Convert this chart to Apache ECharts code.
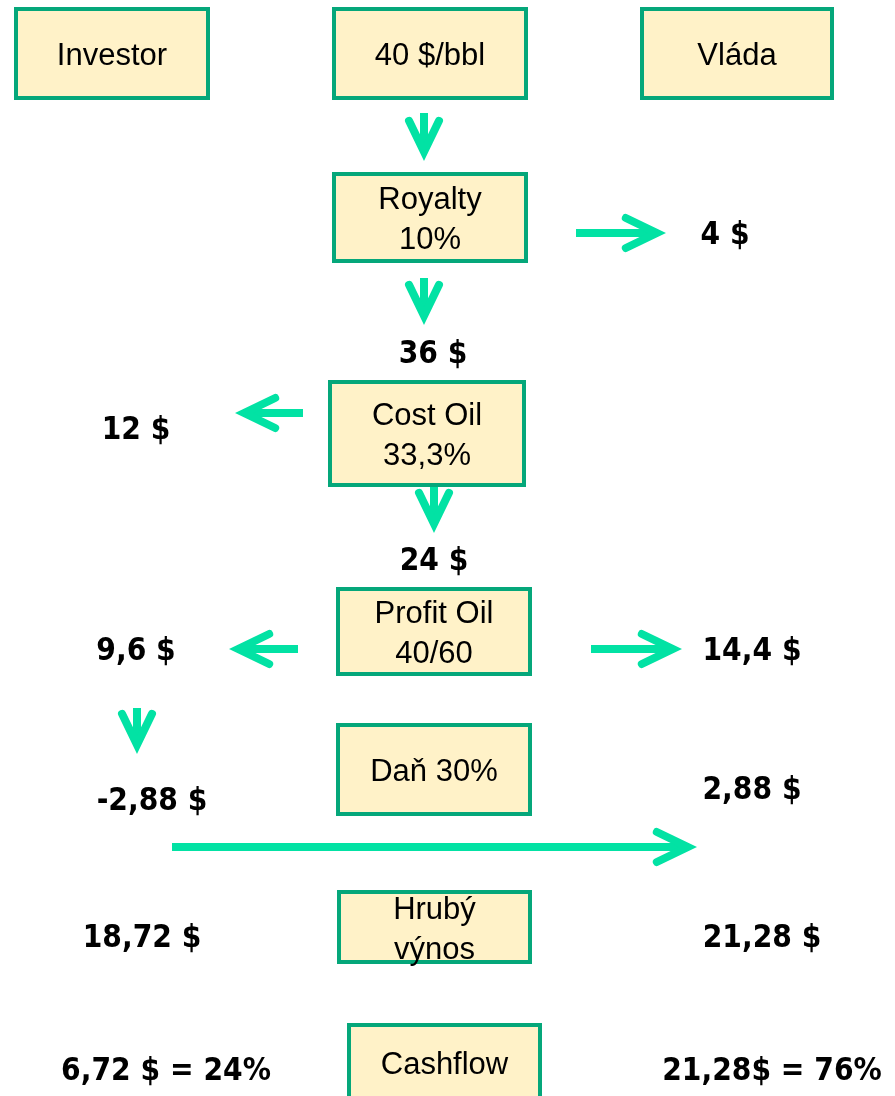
<!DOCTYPE html>
<html>
<head>
<meta charset="utf-8">
<script src="https://cdn.jsdelivr.net/npm/echarts@6/dist/echarts.min.js"></script>
<style>
  html, body { margin: 0; padding: 0; background: #fff; }
  #chart { width: 895px; height: 1096px; }
</style>
</head>
<body>
<div id="chart"></div>
<script>
// krabice (texty a jejich rozmístění)
var boxLabels = ['Investor', '40 $/bbl', 'Vláda', 'Royalty\n10%', 'Cost Oil\n33,3%', 'Profit Oil\n40/60', 'Daň 30%', 'Hrubý\nvýnos', 'Cashflow'];
var boxLeft   = [16, 334, 642, 334, 330, 338, 338, 339, 349];
var boxTop    = [9, 9, 9, 174, 382, 589, 725, 892, 1025];
var boxRight  = [208, 526, 832, 526, 524, 530, 530, 530, 540];
var boxBottom = [98, 98, 98, 261, 485, 674, 814, 962, 1120];

// částky
var amountLabels = ['4 $', '36 $', '12 $', '24 $', '9,6 $', '14,4 $', '-2,88 $', '2,88 $', '18,72 $', '21,28 $', '6,72 $ = 24%', '21,28$ = 76%'];
var amountX = [725, 433, 136, 434, 136, 752, 152, 752, 142, 762, 166, 772];
var amountY = [234, 353, 429, 560, 650, 650, 800, 789, 937, 937, 1070, 1070];

// šipky: začátek -> hrot
var arrowFromX = [424, 576, 424, 303, 434, 298, 591, 137, 172];
var arrowFromY = [113, 233, 278, 413, 487, 649, 649, 708, 847];
var arrowToX   = [424, 666, 424, 235, 434, 229, 682, 137, 697];
var arrowToY   = [161, 233, 325, 413, 533, 649, 649, 754, 847];

var arrowColor = '#02e2a4';
var borderColor = '#05a77a';
var fillColor = '#fff2c8';

var boxData = boxLabels.map(function (t, i) {
    return [boxLeft[i], boxTop[i], boxRight[i], boxBottom[i], i];
});
var amountData = amountLabels.map(function (t, i) {
    return [amountX[i], amountY[i], i];
});
var arrowData = arrowFromX.map(function (x, i) {
    return [x, arrowFromY[i], arrowToX[i], arrowToY[i]];
});

function renderBox(params, api) {
    var p0 = api.coord([api.value(0), api.value(1)]);
    var p1 = api.coord([api.value(2), api.value(3)]);
    var i = api.value(4);
    return {
        type: 'group',
        children: [{
            type: 'rect',
            shape: { x: p0[0], y: p0[1], width: p1[0] - p0[0], height: p1[1] - p0[1] },
            style: { fill: fillColor, stroke: borderColor, lineWidth: 4 }
        }, {
            type: 'text',
            style: {
                text: boxLabels[i],
                x: (p0[0] + p1[0]) / 2,
                y: i === 8 ? p0[1] + 40 : (p0[1] + p1[1]) / 2 + 3,
                align: 'center',
                verticalAlign: 'middle',
                font: '31px "Liberation Sans", Arial, sans-serif',
                lineHeight: 40,
                fill: '#000'
            }
        }]
    };
}

function renderAmount(params, api) {
    var p = api.coord([api.value(0), api.value(1)]);
    return {
        type: 'text',
        x: p[0],
        y: p[1] + 2,
        scaleX: 0.94,
        scaleY: 1.04,
        style: {
            text: amountLabels[api.value(2)],
            x: 0,
            y: 0,
            align: 'center',
            verticalAlign: 'middle',
            font: 'bold 30px "DejaVu Sans", Verdana, sans-serif',
            fill: '#000'
        }
    };
}

function renderArrow(params, api) {
    var p0 = api.coord([api.value(0), api.value(1)]);
    var p1 = api.coord([api.value(2), api.value(3)]);
    var dx = p1[0] - p0[0], dy = p1[1] - p0[1];
    var len = Math.sqrt(dx * dx + dy * dy);
    var ux = dx / len, uy = dy / len;
    var lw = 8, back = 31, side = 15;
    var half = Math.atan(side / back);
    var pull = (lw / 2) / Math.sin(half);
    var tip = [p1[0] - ux * pull, p1[1] - uy * pull];
    var a1 = [tip[0] - ux * back - uy * side, tip[1] - uy * back + ux * side];
    var a2 = [tip[0] - ux * back + uy * side, tip[1] - uy * back - ux * side];
    return {
        type: 'group',
        children: [{
            type: 'line',
            shape: { x1: p0[0], y1: p0[1], x2: tip[0], y2: tip[1] },
            style: { stroke: arrowColor, lineWidth: lw, lineCap: 'butt' }
        }, {
            type: 'polyline',
            shape: { points: [a1, tip, a2] },
            style: { stroke: arrowColor, fill: null, lineWidth: lw, lineCap: 'round', lineJoin: 'miter', miterLimit: 10 }
        }]
    };
}

var myChart = echarts.init(document.getElementById('chart'));
myChart.setOption({
    animation: false,
    backgroundColor: '#ffffff',
    grid: { left: 0, right: 0, top: 0, bottom: 0 },
    xAxis: { type: 'value', min: 0, max: 895, show: false },
    yAxis: { type: 'value', min: 0, max: 1096, inverse: true, show: false },
    series: [{
        type: 'custom',
        name: 'sipky',
        renderItem: renderArrow,
        encode: { x: [0, 2], y: [1, 3] },
        data: arrowData
    }, {
        type: 'custom',
        name: 'krabice',
        renderItem: renderBox,
        encode: { x: [0, 2], y: [1, 3] },
        data: boxData
    }, {
        type: 'custom',
        name: 'castky',
        renderItem: renderAmount,
        encode: { x: 0, y: 1 },
        data: amountData
    }]
});
</script>
</body>
</html>
